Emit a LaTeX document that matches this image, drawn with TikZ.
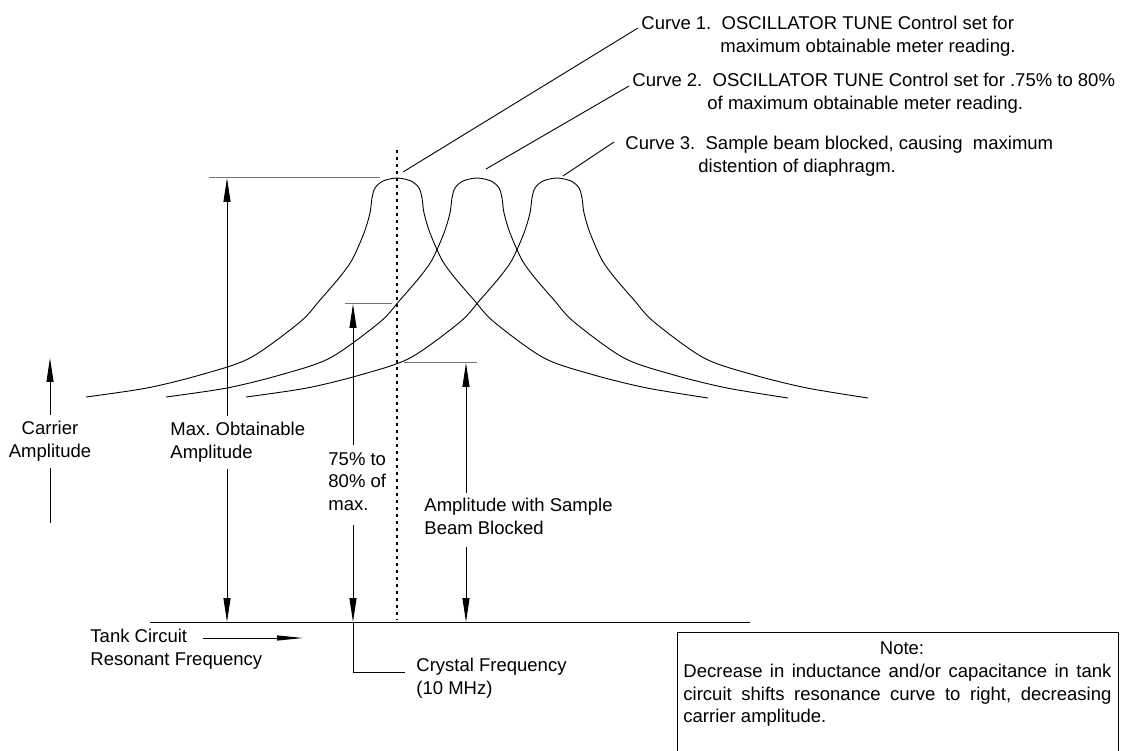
\documentclass[tikz,border=0pt]{standalone}
\usepackage{fontspec}
\setmainfont{Liberation Sans}
\usetikzlibrary{arrows.meta}

\tikzset{
  curva/.style={line width=0.9pt},
  flecha/.style={-{Triangle[length=24pt,width=7pt]}},
  cotagris/.style={draw=black!55, line width=1pt},
  texto/.style={font=\fontsize{18.5}{22.5}\selectfont, inner sep=0pt, align=left},
}
\frenchspacing
\tolerance=9999
\hyphenpenalty=10000

\begin{document}
\begin{tikzpicture}[x=1pt,y=-1pt,line width=0.9pt]
  \useasboundingbox (0,0) rectangle (1125,751);

  % curvas de resonancia
  \foreach \c in {397,477,557}
    \draw[curva] plot[smooth,tension=0.5] coordinates {
      ({\c-311},397) ({\c-250},388) ({\c-197},375) ({\c-147},358)
      ({\c-97},322) ({\c-77},300) ({\c-58},278) ({\c-45},260)
      ({\c-33},233) ({\c-27},213) ({\c-25},198) ({\c-22},188)
      ({\c-14},181) (\c,178) ({\c+14},181) ({\c+22},188)
      ({\c+25},198) ({\c+27},213) ({\c+33},233) ({\c+45},260)
      ({\c+58},278) ({\c+77},300) ({\c+97},322) ({\c+147},358)
      ({\c+197},375) ({\c+250},388) ({\c+311},398)};

  % eje de frecuencia
  \coordinate (ejeL) at (150,622);
  \coordinate (ejeR) at (750,622);
  \draw (ejeL) -- (ejeR);

  % frecuencia del cristal
  \coordinate (xtalTop) at (397,150);
  \coordinate (xtalBot) at (397,620);
  \draw[line width=2.2pt, dash pattern=on 3pt off 4pt] (xtalTop) -- (xtalBot);

  % carrier amplitude
  \node[texto, align=center, anchor=north] (carTxt) at (50,421) {Carrier\\Amplitude};
  \coordinate (carTop) at (50,358);
  \coordinate (carBot) at (50,523);
  \draw[flecha] ([yshift=6pt]carTxt.north) -- (carTop);
  \draw ([yshift=-6pt]carTxt.south) -- (carBot);

  % amplitud maxima
  \coordinate (maxL) at (209,178);
  \coordinate (maxR) at (380,178);
  \coordinate (maxTop) at (227,178);
  \coordinate (maxBot) at (227,622);
  \node[texto, anchor=north west] (maxTxt) at (170,422) {Max. Obtainable\\Amplitude};
  \draw[cotagris] (maxL) -- (maxR);
  \draw[flecha] ([yshift=6pt]maxTxt.north -| maxTop) -- (maxTop);
  \draw[flecha] ([yshift=-6pt]maxTxt.south -| maxBot) -- (maxBot);

  % 75% a 80%
  \coordinate (pctL) at (345,304);
  \coordinate (pctR) at (392,304);
  \coordinate (pctTop) at (353,304);
  \coordinate (pctBot) at (353,622);
  \node[texto, anchor=north west] (pctTxt) at (328,452) {75\% to\\80\% of\\max.};
  \draw[cotagris] (pctL) -- (pctR);
  \draw[flecha] ([yshift=7pt]pctTxt.north -| pctTop) -- (pctTop);
  \draw[flecha] ([yshift=-14pt]pctTxt.south -| pctBot) -- (pctBot);

  % haz bloqueado
  \coordinate (smpL) at (404,363);
  \coordinate (smpR) at (477,363);
  \coordinate (smpTop) at (466,363);
  \coordinate (smpBot) at (466,622);
  \node[texto, anchor=north west] (smpTxt) at (424,498) {Amplitude with Sample\\Beam Blocked};
  \draw[cotagris] (smpL) -- (smpR);
  \draw[flecha] ([yshift=5pt]smpTxt.north -| smpTop) -- (smpTop);
  \draw[flecha] ([yshift=-12pt]smpTxt.south -| smpBot) -- (smpBot);

  % tank circuit
  \node[texto, anchor=north west] (tankTxt) at (90,629) {Tank Circuit\\Resonant Frequency};
  \coordinate (tankA) at (203,638);
  \coordinate (tankB) at (303,638);
  \draw[-{Triangle[length=26pt,width=5pt]}] (tankA) -- (tankB);

  % crystal frequency
  \node[texto, anchor=north west] (xtalTxt) at (416,658) {Crystal Frequency\\(10 MHz)};
  \coordinate (xtalEnd) at (405,672);
  \draw (pctBot) |- (xtalEnd);

  % etiquetas de curvas
  \node[texto, anchor=north west] (lbl1) at (641,16)
    {Curve 1.\ \ OSCILLATOR TUNE Control set for\\\hspace*{79pt}maximum obtainable meter reading.};
  \node[texto, anchor=north west] (lbl2) at (632,73)
    {Curve 2.\ \ OSCILLATOR TUNE Control set for .75\% to 80\%\\\hspace*{75pt}of maximum obtainable meter reading.};
  \node[texto, anchor=north west] (lbl3) at (625,136)
    {Curve 3.\ \ Sample beam blocked, causing\ \ maximum\\\hspace*{73pt}distention of diaphragm.};
  \coordinate (pk1) at (403,172);
  \coordinate (pk2) at (486,169);
  \coordinate (pk3) at (563,176);
  \coordinate (ld1) at (638,28);
  \coordinate (ld2) at (629,86);
  \coordinate (ld3) at (614,142);
  \draw (pk1) -- (ld1);
  \draw (pk2) -- (ld2);
  \draw (pk3) -- (ld3);

  % nota
  \coordinate (boxBL) at (677,760);
  \coordinate (boxTL) at (677,632);
  \coordinate (boxTR) at (1118,632);
  \coordinate (boxBR) at (1118,760);
  \draw (boxBL) -- (boxTL) -- (boxTR) -- (boxBR);
  \node[texto, align=center, anchor=north] (noteHd) at (902,641) {Note:};
  \node[texto, align=justify, text width=428pt, anchor=north west] (noteTxt) at (683,664)
    {Decrease in inductance and/or capacitance in tank circuit shifts resonance curve to right, decreasing carrier amplitude.};
\end{tikzpicture}
\end{document}
